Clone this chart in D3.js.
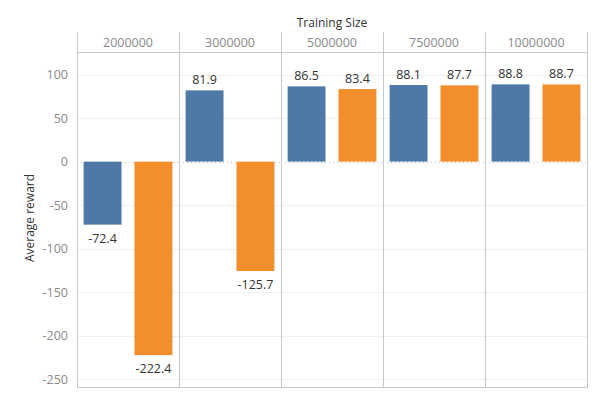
<!DOCTYPE html>
<html>
<head>
<meta charset="utf-8">
<script src="https://cdn.jsdelivr.net/npm/d3@7"></script>
<style>
body { margin:0; background:#fff; }
text { font-family: "Open Sans", "Noto Sans", sans-serif; }
</style>
</head>
<body>
<svg></svg>
<script>
var sizes = ["2000000","3000000","5000000","7500000","10000000"];
var series = ["a","b"];
var blueValues = [-72.4, 81.9, 86.5, 88.1, 88.8];
var orangeValues = [-222.4, -125.7, 83.4, 87.7, 88.7];
var yTicks = [100, 50, 0, -50, -100, -150, -200, -250];
var colors = ["#4e79a7", "#f28e2b"];

var screen = {width:599, height:399};
var svg = d3.select("svg")
            .attr("width", screen.width)
            .attr("height", screen.height);

var margins = {left:77, right:12, top:52, bottom:12};
var headerTop = 32;
var width = screen.width - margins.left - margins.right;
var plotBottom = screen.height - margins.bottom;

var xPanel = d3.scaleBand()
               .domain(sizes)
               .range([margins.left, margins.left + width]);

var xInner = d3.scaleBand()
               .domain(series)
               .range([0, xPanel.bandwidth()])
               .paddingInner(0.255)
               .paddingOuter(0.13);

var yScale = d3.scaleLinear()
               .domain([-259, 126])
               .range([plotBottom, margins.top]);

// gridlines
svg.append("g")
   .selectAll("line")
   .data(yTicks.filter(function(d){return d != 0;}))
   .enter()
   .append("line")
   .attr("x1", margins.left)
   .attr("x2", margins.left + width)
   .attr("y1", function(d){return Math.round(yScale(d)) + 0.5;})
   .attr("y2", function(d){return Math.round(yScale(d)) + 0.5;})
   .attr("stroke", "#efefef")
   .attr("stroke-width", 1);

// y axis
var yAxis = d3.axisLeft(yScale)
              .tickValues(yTicks)
              .tickFormat(function(d){return String(d);})
              .tickSize(0)
              .tickPadding(9);
var ya = svg.append("g")
   .attr("transform", "translate(" + margins.left + ",0)")
   .call(yAxis);
ya.select(".domain").remove();
ya.selectAll("text")
  .attr("fill", "#8a8a8a")
  .style("font-size", "12.5px");

svg.append("text")
   .attr("transform", "translate(34," + 218 + ") rotate(-90)")
   .attr("text-anchor", "middle")
   .attr("fill", "#333")
   .style("font-size", "12px")
   .text("Average reward");

svg.append("text")
   .attr("x", xPanel.range()[0] + width / 2)
   .attr("y", 27)
   .attr("text-anchor", "middle")
   .attr("fill", "#333")
   .style("font-size", "12px")
   .text("Training Size");

var panels = svg.selectAll(".panel")
   .data(sizes)
   .enter()
   .append("g")
   .attr("class", "panel")
   .attr("transform", function(d){return "translate(" + xPanel(d) + ",0)";});

panels.append("text")
   .attr("x", xPanel.bandwidth() / 2)
   .attr("y", 47)
   .attr("text-anchor", "middle")
   .attr("fill", "#8a8a8a")
   .style("font-size", "12.5px")
   .text(function(d){return d;});

// zero line
panels.append("line")
   .attr("x1", 0)
   .attr("x2", xPanel.bandwidth())
   .attr("y1", Math.round(yScale(0)) + 0.5)
   .attr("y2", Math.round(yScale(0)) + 0.5)
   .attr("stroke", "#bbb")
   .attr("stroke-dasharray", "1,3");

var barData = function(d, i) {
  return [{s:"a", v:blueValues[i], c:colors[0]}, {s:"b", v:orangeValues[i], c:colors[1]}];
};

panels.selectAll("rect")
   .data(barData)
   .enter()
   .append("rect")
   .attr("x", function(d){return xInner(d.s);})
   .attr("width", xInner.bandwidth())
   .attr("y", function(d){return yScale(Math.max(0, d.v));})
   .attr("height", function(d){return Math.abs(yScale(d.v) - yScale(0));})
   .attr("fill", function(d){return d.c;});

panels.selectAll(".lbl")
   .data(barData)
   .enter()
   .append("text")
   .attr("class", "lbl")
   .attr("x", function(d){return xInner(d.s) + xInner.bandwidth() / 2;})
   .attr("y", function(d){return d.v >= 0 ? yScale(d.v) - 6 : yScale(d.v) + 18;})
   .attr("text-anchor", "middle")
   .attr("fill", "#333")
   .style("font-size", "12.5px")
   .text(function(d){return d.v.toFixed(1);});

// frame lines
var frame = svg.append("g").attr("stroke", "#c8c8c8").attr("stroke-width", 1);
xPanel.domain().concat(["end"]).forEach(function(d) {
  var x = d == "end" ? xPanel.range()[1] : xPanel(d);
  frame.append("line")
       .attr("x1", Math.round(x) + 0.5).attr("x2", Math.round(x) + 0.5)
       .attr("y1", headerTop).attr("y2", plotBottom);
});
frame.append("line")
     .attr("x1", margins.left).attr("x2", margins.left + width + 1)
     .attr("y1", margins.top + 0.5).attr("y2", margins.top + 0.5);
frame.append("line")
     .attr("x1", margins.left).attr("x2", margins.left + width + 1)
     .attr("y1", plotBottom + 0.5).attr("y2", plotBottom + 0.5);
</script>
</body>
</html>
